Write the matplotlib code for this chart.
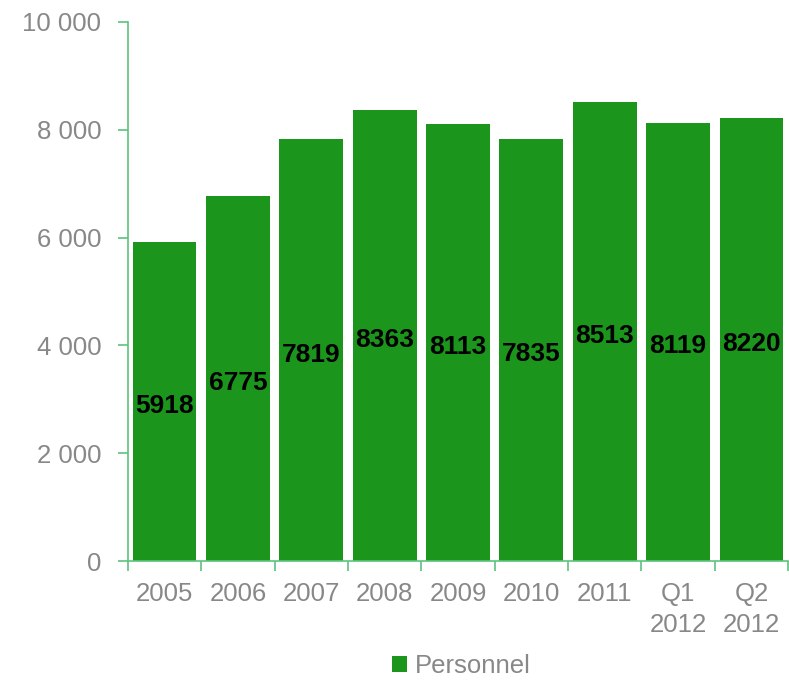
import matplotlib.pyplot as plt
from matplotlib.ticker import FuncFormatter, FixedLocator
import numpy as np

plt.rcParams['font.family'] = ['Liberation Sans', 'DejaVu Sans']

categories = ['2005', '2006', '2007', '2008', '2009', '2010', '2011', 'Q1\n2012', 'Q2\n2012']
personnel = [5918, 6775, 7819, 8363, 8113, 7835, 8513, 8119, 8220]

bar_color = '#1c951c'
axis_color = '#5cc47c'
text_gray = '#888888'

fig = plt.figure(figsize=(7.89, 6.85), dpi=100)
ax = fig.add_axes([0.162, 0.181, 0.837, 0.787])

x = np.arange(len(categories))
bars = ax.bar(x, personnel, width=0.87, color=bar_color, label='Personnel')

for xi, v in zip(x, personnel):
    ax.text(xi, v / 2 - 80, str(v), ha='center', va='center', fontsize=19,
            fontweight='bold', color='black')

ax.set_xlim(-0.5, len(categories) - 0.5)
ax.set_ylim(0, 10000)
ax.set_yticks(np.arange(0, 10001, 2000))
ax.yaxis.set_major_formatter(FuncFormatter(lambda v, p: f'{int(v):,}'.replace(',', ' ')))

ax.set_xticks(x)
ax.set_xticklabels(categories, linespacing=1.4)
ax.tick_params(axis='x', which='major', length=0, pad=15)
ax.xaxis.set_minor_locator(FixedLocator(np.arange(-0.5, len(categories), 1.0)))
ax.tick_params(axis='x', which='minor', length=7, color=axis_color, width=1.2)
ax.tick_params(axis='y', length=7, color=axis_color, width=1.2, pad=12)
ax.tick_params(labelsize=18.5, labelcolor=text_gray)

for s in ['top', 'right']:
    ax.spines[s].set_visible(False)
for s in ['left', 'bottom']:
    ax.spines[s].set_color(axis_color)
    ax.spines[s].set_linewidth(1.2)

fig.legend(handles=[bars], labels=['Personnel'], loc='lower center',
           bbox_to_anchor=(0.585, -0.024), frameon=False, fontsize=18.5,
           labelcolor=text_gray, handlelength=0.6, handleheight=0.6,
           handletextpad=0.3)

fig.savefig('out.png', dpi=100)
